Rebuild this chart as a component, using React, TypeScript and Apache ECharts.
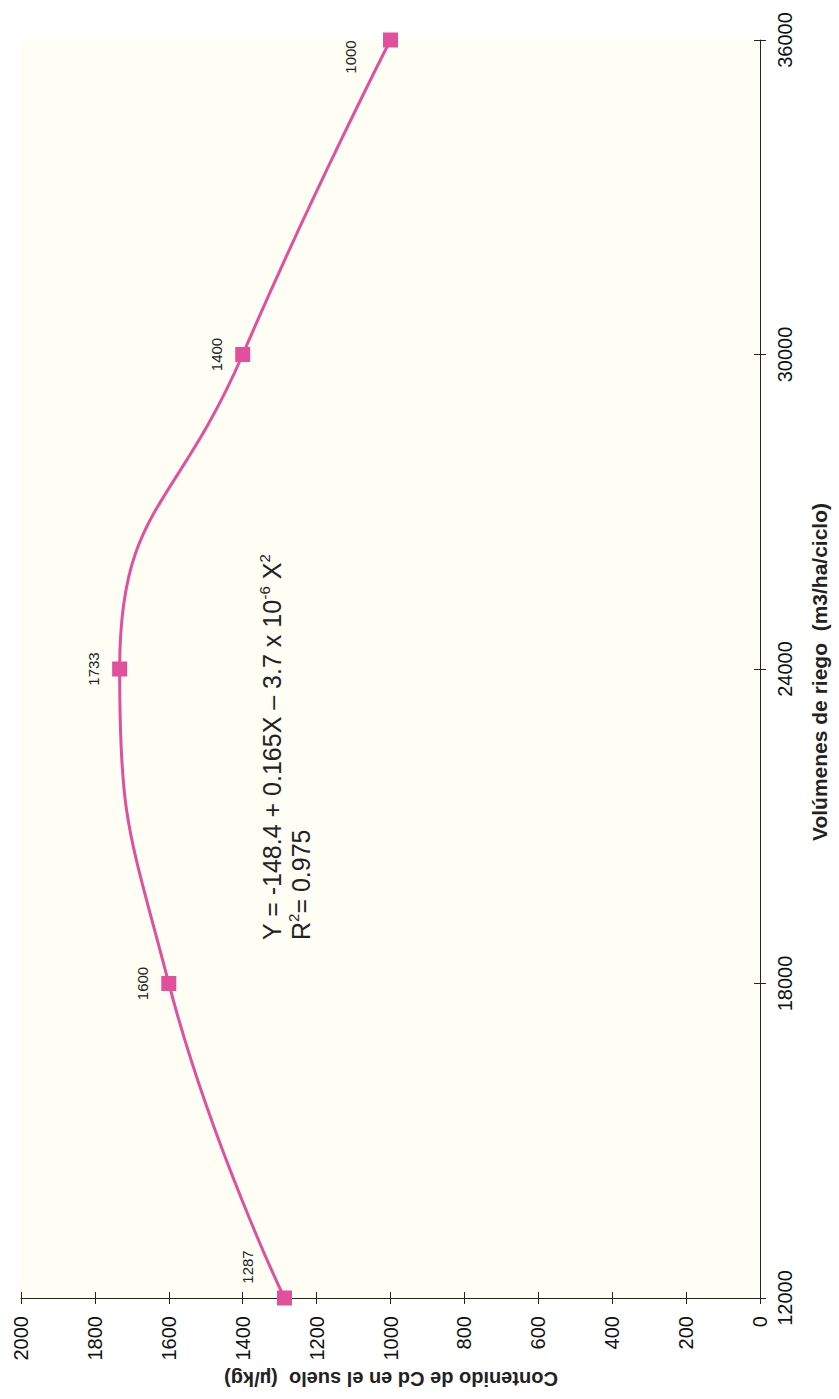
import React, { useEffect, useRef } from "react";
import * as echarts from "echarts";

// Irrigation volume (m3/ha/ciclo) and soil cadmium content at each volume
const volumes = [12000, 18000, 24000, 30000, 36000];
const cadmium = [1287, 1600, 1733, 1400, 1000];

// Axis ranges
const cdMin = 0;
const cdMax = 2000;
const cdStep = 200;
const volMin = 12000;
const volMax = 36000;
const volStep = 6000;

// Per-point label nudges (text-local frame: [along text, across text])
const labelNudges = [
  [31, -11],
  [0, 0],
  [0, 0],
  [0, 0],
  [-17, -14],
];

const equationLine = "Y = -148.4 + 0.165X – 3.7 x 10";
const r2Value = "= 0.975";
const cdTitle = "Contenido de Cd en el suelo  (µ/kg)";
const volTitle = "Volúmenes de riego  (m3/ha/ciclo)";

const FONT = "'Liberation Sans', Arial, Helvetica, sans-serif";
const PINK = "#e0509c";
const AXIS = "#222";

const GRID = { left: 21, right: 79, top: 40, bottom: 101 };

export default function App() {
  const ref = useRef<HTMLDivElement>(null);

  useEffect(() => {
    if (!ref.current) return;
    const chart = echarts.init(ref.current, null, { renderer: "svg" });

    const points = volumes.map((v, i) => ({
      value: [cadmium[i], v],
      label: { offset: labelNudges[i] },
    }));

    const plain = (v: number) => String(v);

    const cdAxisBase = {
      type: "value",
      min: cdMin,
      max: cdMax,
      interval: cdStep,
      inverse: true,
      position: "bottom",
      splitLine: { show: false },
    };
    const volAxisBase = {
      type: "value",
      min: volMin,
      max: volMax,
      interval: volStep,
      position: "right",
      splitLine: { show: false },
    };

    chart.setOption({
      animation: false,
      backgroundColor: "#ffffff",
      grid: [
        { ...GRID, show: true, backgroundColor: "#fefef5", borderWidth: 0 },
        { ...GRID, show: false },
      ],
      xAxis: [
        {
          ...cdAxisBase,
          gridIndex: 0,
          axisLine: { show: true, lineStyle: { color: AXIS, width: 1 } },
          axisTick: { show: true, inside: false, length: 6, lineStyle: { color: AXIS } },
          axisLabel: {
            rotate: 90,
            margin: 18,
            fontSize: 20,
            color: "#111",
            fontFamily: FONT,
            formatter: plain,
          },
        },
        {
          ...cdAxisBase,
          gridIndex: 1,
          axisLine: { show: false },
          axisTick: { show: true, inside: true, length: 6, lineStyle: { color: AXIS } },
          axisLabel: { show: false },
        },
      ],
      yAxis: [
        {
          ...volAxisBase,
          gridIndex: 0,
          axisLine: { show: true, lineStyle: { color: AXIS, width: 1 } },
          axisTick: { show: true, inside: false, length: 6, lineStyle: { color: AXIS } },
          axisLabel: {
            rotate: 90,
            margin: 15,
            fontSize: 20,
            color: "#111",
            fontFamily: FONT,
            formatter: plain,
          },
        },
        {
          ...volAxisBase,
          gridIndex: 1,
          axisLine: { show: false },
          axisTick: { show: true, inside: true, length: 6, lineStyle: { color: AXIS } },
          axisLabel: { show: false },
        },
      ],
      series: [
        {
          type: "line",
          xAxisIndex: 0,
          yAxisIndex: 0,
          data: points,
          smooth: 0.5,
          symbol: "rect",
          symbolSize: 15,
          lineStyle: { color: PINK, width: 3 },
          itemStyle: { color: PINK },
          label: {
            show: true,
            position: "left",
            distance: 11,
            rotate: 90,
            align: "center",
            verticalAlign: "bottom",
            fontSize: 15,
            color: "#222",
            fontFamily: FONT,
            formatter: (p: any) => String(p.value[0]),
          },
        },
      ],
      graphic: [
        {
          type: "text",
          x: 257,
          y: 940,
          rotation: Math.PI / 2,
          style: {
            text:
              `{n|${equationLine}}{s|-6}{n| X}{s|2}\n` +
              `{n|R}{s|2}{n|${r2Value}}`,
            align: "left",
            verticalAlign: "top",
            fill: "#222",
            fontFamily: FONT,
            rich: {
              n: { fontSize: 25, lineHeight: 29, fontFamily: FONT, fill: "#222" },
              s: {
                fontSize: 15,
                lineHeight: 29,
                verticalAlign: "top",
                fontFamily: FONT,
                fill: "#222",
              },
            },
          },
        },
        {
          type: "text",
          x: 391,
          y: 1379,
          rotation: Math.PI,
          style: {
            text: cdTitle,
            align: "center",
            verticalAlign: "middle",
            fontSize: 20,
            fontWeight: "bold",
            fill: "#222",
            fontFamily: FONT,
          },
        },
        {
          type: "text",
          x: 819,
          y: 672,
          rotation: Math.PI / 2,
          style: {
            text: volTitle,
            align: "center",
            verticalAlign: "middle",
            fontSize: 21,
            fontWeight: "bold",
            fill: "#222",
            fontFamily: FONT,
          },
        },
      ],
    });

    return () => chart.dispose();
  }, []);

  return (
    <div
      ref={ref}
      style={{ position: "absolute", left: 0, top: 0, width: 839, height: 1399 }}
    />
  );
}
